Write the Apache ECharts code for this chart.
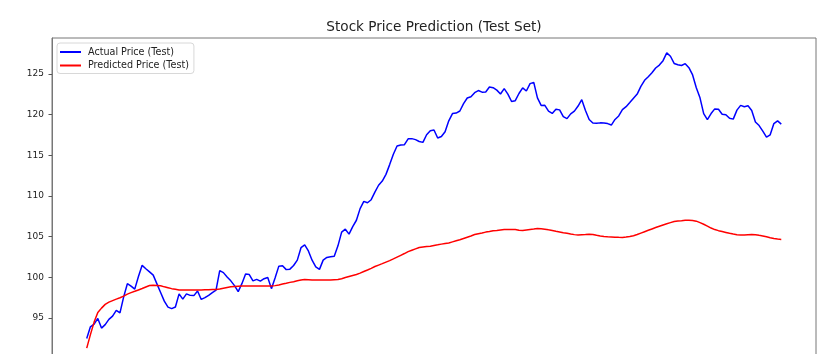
<!DOCTYPE html>
<html>
<head>
<meta charset="utf-8">
<script src="https://cdn.jsdelivr.net/npm/echarts@6/dist/echarts.min.js"></script>
<style>
html,body{margin:0;padding:0;background:#fff;}
#c{width:835px;height:354px;}
</style>
</head>
<body>
<div id="c"></div>
<script>
const titleText = 'Stock Price Prediction (Test Set)';
const seriesNames = ['Actual Price (Test)', 'Predicted Price (Test)'];
const yTicks = [95, 100, 105, 110, 115, 120, 125];

const actual = [
92.46, 93.89, 94.22, 94.92, 93.73, 94.16, 94.80, 95.21, 95.91, 95.61,
97.58, 99.20, 98.90, 98.53, 100.08, 101.46, 101.04, 100.65, 100.25, 99.18,
98.12, 97.05, 96.32, 96.13, 96.33, 97.94, 97.30, 97.94, 97.76, 97.73,
98.29, 97.26, 97.48, 97.76, 98.09, 98.41, 100.81, 100.56, 100.03, 99.55,
98.96, 98.22, 99.20, 100.40, 100.32, 99.54, 99.73, 99.52, 99.81, 99.97,
98.59, 99.93, 101.36, 101.41, 100.93, 100.99, 101.44, 102.10, 103.63, 103.97,
103.23, 102.09, 101.26, 100.96, 102.10, 102.43, 102.51, 102.59, 103.86, 105.55,
105.91, 105.30, 106.23, 107.01, 108.44, 109.34, 109.16, 109.54, 110.47, 111.32,
111.83, 112.66, 113.86, 115.13, 116.16, 116.28, 116.32, 117.03, 117.06, 116.94,
116.71, 116.60, 117.54, 118.03, 118.12, 117.13, 117.32, 117.91, 119.25, 120.14,
120.21, 120.46, 121.36, 122.06, 122.22, 122.72, 122.98, 122.78, 122.81, 123.41,
123.33, 123.03, 122.56, 123.21, 122.54, 121.63, 121.73, 122.62, 123.30, 122.92,
123.83, 123.99, 122.07, 121.15, 121.16, 120.44, 120.16, 120.69, 120.60, 119.76,
119.52, 120.11, 120.44, 121.07, 121.86, 120.53, 119.41, 118.99, 118.94, 119.00,
118.97, 118.91, 118.73, 119.42, 119.85, 120.63, 120.99, 121.50, 122.03, 122.54,
123.49, 124.24, 124.69, 125.17, 125.76, 126.12, 126.66, 127.62, 127.20, 126.32,
126.16, 126.06, 126.29, 125.80, 124.90, 123.33, 122.08, 120.14, 119.41, 120.15,
120.72, 120.67, 120.06, 120.01, 119.56, 119.46, 120.57, 121.15, 120.99, 121.10,
120.53, 119.11, 118.67, 117.98, 117.24, 117.53, 118.91, 119.25, 118.84
];

const predicted = [
91.27, 92.93, 94.47, 95.64, 96.19, 96.65, 96.93, 97.12, 97.30, 97.47,
97.67, 97.92, 98.10, 98.26, 98.43, 98.60, 98.79, 98.97, 99.02, 98.99,
98.94, 98.81, 98.70, 98.59, 98.52, 98.43, 98.41, 98.41, 98.42, 98.42,
98.43, 98.43, 98.44, 98.45, 98.47, 98.49, 98.54, 98.64, 98.73, 98.81,
98.85, 98.88, 98.90, 98.92, 98.92, 98.92, 98.92, 98.92, 98.92, 98.91,
98.90, 98.96, 99.05, 99.15, 99.25, 99.36, 99.45, 99.55, 99.64, 99.72,
99.69, 99.65, 99.64, 99.64, 99.64, 99.65, 99.66, 99.69, 99.71, 99.81,
99.95, 100.08, 100.21, 100.33, 100.50, 100.70, 100.89, 101.09, 101.31, 101.49,
101.67, 101.86, 102.04, 102.25, 102.47, 102.69, 102.91, 103.15, 103.32, 103.49,
103.66, 103.73, 103.78, 103.82, 103.90, 103.98, 104.07, 104.15, 104.22, 104.35,
104.48, 104.60, 104.76, 104.92, 105.08, 105.25, 105.36, 105.45, 105.55, 105.63,
105.72, 105.76, 105.81, 105.86, 105.88, 105.88, 105.88, 105.77, 105.75, 105.81,
105.87, 105.92, 105.98, 105.97, 105.91, 105.83, 105.76, 105.66, 105.57, 105.47,
105.40, 105.31, 105.24, 105.19, 105.22, 105.25, 105.29, 105.25, 105.15, 105.07,
105.02, 104.98, 104.96, 104.93, 104.91, 104.90, 104.95, 105.02, 105.11, 105.25,
105.43, 105.60, 105.77, 105.94, 106.11, 106.27, 106.43, 106.58, 106.72, 106.85,
106.93, 106.96, 107.01, 107.01, 106.98, 106.90, 106.72, 106.52, 106.29, 106.05,
105.86, 105.73, 105.62, 105.51, 105.40, 105.31, 105.23, 105.18, 105.20, 105.23,
105.25, 105.23, 105.15, 105.08, 104.97, 104.85, 104.75, 104.69, 104.65
];

const toPairs = arr => arr.map((v, i) => [i, v]);
const n = actual.length;
const pad = (n - 1) * 0.05;

const chart = echarts.init(document.getElementById('c'), null, {renderer: 'canvas'});
chart.setOption({
  animation: false,
  backgroundColor: '#ffffff',
  textStyle: {fontFamily: 'DejaVu Sans'},
  title: {
    text: titleText,
    left: 434,
    top: 20,
    padding: 0,
    textAlign: 'center',
    textStyle: {fontSize: 13.6, fontWeight: 'normal', color: '#222', fontFamily: 'DejaVu Sans'}
  },
  legend: {
    orient: 'vertical',
    left: 57,
    top: 43,
    padding: [4, 5, 3, 3],
    itemGap: 3.5,
    itemWidth: 21,
    itemHeight: 2,
    icon: 'rect',
    backgroundColor: '#fff',
    borderColor: '#d8d8d8',
    borderWidth: 1,
    borderRadius: 3,
    textStyle: {fontSize: 9.6, color: '#222', fontFamily: 'DejaVu Sans', padding: [0, 0, 0, 2]},
    data: seriesNames
  },
  grid: {
    left: 52,
    top: 38,
    width: 764,
    height: 320.4,
    outerBoundsMode: 'none',
    containLabel: false,
    show: true,
    borderColor: '#777',
    borderWidth: 1,
    backgroundColor: 'transparent'
  },
  xAxis: {
    type: 'value',
    min: -pad,
    max: (n - 1) + pad,
    show: false,
    splitLine: {show: false}
  },
  yAxis: {
    type: 'value',
    min: 90,
    max: 129.45,
    interval: 5,
    splitLine: {show: false},
    axisLine: {show: true, onZero: false, lineStyle: {color: '#777', width: 1}},
    axisTick: {show: true, length: 3.5, lineStyle: {color: '#555'}, customValues: yTicks},
    axisLabel: {show: true, margin: 8, fontSize: 9, color: '#222', fontFamily: 'DejaVu Sans', customValues: yTicks}
  },
  series: [
    {
      name: seriesNames[0],
      type: 'line',
      data: toPairs(actual),
      symbol: 'none',
      lineStyle: {color: '#0000ff', width: 1.5},
      itemStyle: {color: '#0000ff'}
    },
    {
      name: seriesNames[1],
      type: 'line',
      data: toPairs(predicted),
      symbol: 'none',
      lineStyle: {color: '#ff0000', width: 1.5},
      itemStyle: {color: '#ff0000'}
    }
  ]
});
</script>
</body>
</html>
